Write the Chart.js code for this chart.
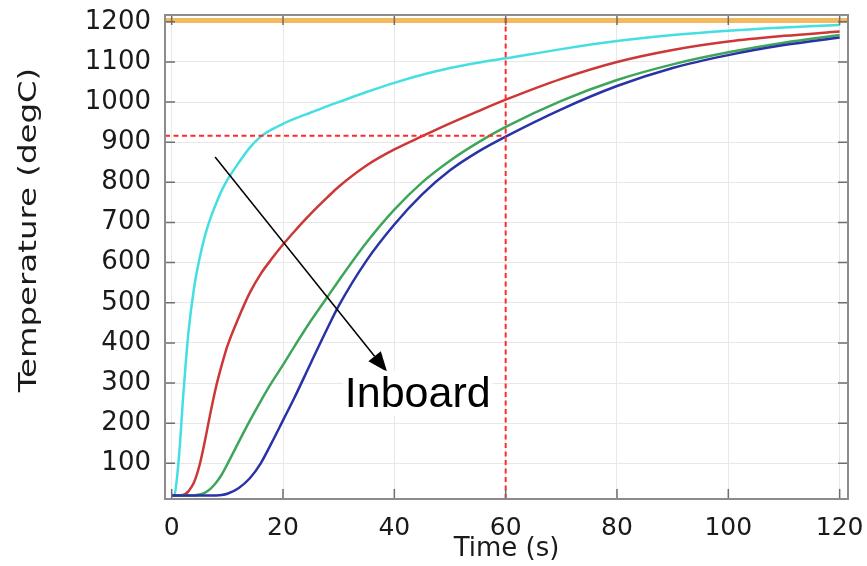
<!DOCTYPE html>
<html lang="en">
<head>
  <meta charset="UTF-8" />
  <title>Temperature vs Time</title>
  <script src="https://cdn.jsdelivr.net/npm/chart.js"></script>
  <style>
    html, body { margin: 0; padding: 0; background: #fff; }
  </style>
</head>
<body>
  <canvas id="tempChart" width="867" height="566"></canvas>

  <script>
    // time samples (s), shared by all four curves
    const timeS = [0, 0.5, 1, 1.5, 2, 2.5, 3, 4, 5, 6, 7, 8, 9, 10, 12, 14, 16, 18, 20, 22,
                   25, 28, 30, 35, 40, 45, 50, 55, 60, 70, 80, 90, 100, 110, 120];

    // temperature (degC) at each sample, outer surface -> inboard
    const cyanT  = [20, 22, 70, 150, 255, 345, 425, 535, 610, 668, 712, 748, 780, 806, 848, 886, 914, 932, 946, 958,
                    974, 990, 1000, 1025, 1048, 1068, 1085, 1098, 1109, 1132, 1152, 1167, 1178, 1186, 1192];
    const redT   = [20, 20, 20, 20, 21, 24, 30, 52, 95, 158, 228, 292, 345, 392, 462, 524, 572, 610, 645, 677,
                    722, 763, 789, 842, 882, 915, 947, 977, 1006, 1058, 1100, 1130, 1151, 1165, 1176];
    const greenT = [20, 20, 20, 20, 20, 20, 20, 20, 22, 27, 37, 52, 72, 98, 152, 205, 255, 302, 345, 390,
                    455, 515, 555, 650, 732, 800, 854, 899, 938, 1003, 1055, 1094, 1124, 1148, 1167];
    const blueT  = [20, 20, 20, 20, 20, 20, 20, 20, 20, 20, 20, 20, 21, 24, 38, 62, 100, 152, 207, 262,
                    350, 437, 492, 605, 695, 770, 830, 876, 914, 982, 1040, 1085, 1117, 1142, 1161];

    const furnaceT = 1203;
    const refTime = 60;
    const refTemp = 916;

    const xRange = [-1.2, 121.5];
    const yRange = [11, 1217];
    const xTicks = [0, 20, 40, 60, 80, 100, 120];
    const yTicks = [100, 200, 300, 400, 500, 600, 700, 800, 900, 1000, 1100, 1200];

    // annotation (data units)
    const arrowFrom = [7.8, 863];
    const arrowTo = [38.7, 328];
    const noteAt = [31.1, 241];
    const noteText = 'Inboard';

    function curve(values) {
      return timeS.map((t, i) => ({ x: t, y: values[i] }));
    }

    function lineSet(values, color, order) {
      return {
        data: curve(values),
        borderColor: color,
        borderWidth: 2.5,
        pointRadius: 0,
        cubicInterpolationMode: 'monotone',
        order: order
      };
    }

    const decorations = {
      id: 'decorations',
      afterDatasetsDraw(chart) {
        const { ctx, chartArea: a, scales: { x, y } } = chart;
        ctx.save();

        // inward tick marks
        ctx.strokeStyle = '#6e6e6e';
        ctx.lineWidth = 1.5;
        ctx.beginPath();
        xTicks.forEach(v => {
          const px = x.getPixelForValue(v);
          ctx.moveTo(px, a.bottom); ctx.lineTo(px, a.bottom - 10);
          ctx.moveTo(px, a.top); ctx.lineTo(px, a.top + 10);
        });
        yTicks.forEach(v => {
          const py = y.getPixelForValue(v);
          ctx.moveTo(a.left, py); ctx.lineTo(a.left + 10, py);
          ctx.moveTo(a.right, py); ctx.lineTo(a.right - 10, py);
        });
        ctx.stroke();

        // frame
        ctx.strokeStyle = '#8c8c8c';
        ctx.lineWidth = 2;
        ctx.strokeRect(a.left, a.top, a.right - a.left, a.bottom - a.top);

        // arrow
        const x0 = x.getPixelForValue(arrowFrom[0]), y0 = y.getPixelForValue(arrowFrom[1]);
        const x1 = x.getPixelForValue(arrowTo[0]), y1 = y.getPixelForValue(arrowTo[1]);
        const ang = Math.atan2(y1 - y0, x1 - x0);
        const headLen = 20, headW = 8;
        const bx = x1 - headLen * Math.cos(ang), by = y1 - headLen * Math.sin(ang);
        ctx.strokeStyle = '#000';
        ctx.lineWidth = 1.5;
        ctx.beginPath();
        ctx.moveTo(x0, y0);
        ctx.lineTo(bx, by);
        ctx.stroke();
        ctx.fillStyle = '#000';
        ctx.beginPath();
        ctx.moveTo(x1, y1);
        ctx.lineTo(bx + headW * Math.sin(ang), by - headW * Math.cos(ang));
        ctx.lineTo(bx - headW * Math.sin(ang), by + headW * Math.cos(ang));
        ctx.closePath();
        ctx.fill();

        // Inboard label on a white box
        ctx.font = '43px "Liberation Sans"';
        const nx = x.getPixelForValue(noteAt[0]), ny = y.getPixelForValue(noteAt[1]);
        const w = ctx.measureText(noteText).width;
        ctx.fillStyle = '#fff';
        ctx.fillRect(nx - 2, ny - 36, w + 4, 45);
        ctx.fillStyle = '#000';
        ctx.textBaseline = 'alphabetic';
        ctx.textAlign = 'left';
        ctx.fillText(noteText, nx, ny);

        // y axis title (stretched along its length like the source)
        ctx.translate(30, 230);
        ctx.rotate(-Math.PI / 2);
        ctx.scale(1.35, 1);
        ctx.font = '24px "DejaVu Sans"';
        ctx.fillStyle = '#1a1a1a';
        ctx.textAlign = 'center';
        ctx.textBaseline = 'middle';
        ctx.fillText('Temperature (degC)', 0, 0);

        ctx.restore();
      }
    };

    const ctx = document.getElementById('tempChart').getContext('2d');
    new Chart(ctx, {
      type: 'line',
      data: {
        datasets: [
          {
            data: [{ x: refTime, y: yRange[0] }, { x: refTime, y: yRange[1] }],
            borderColor: '#ff2a2a', borderWidth: 2, borderDash: [5, 3.5], pointRadius: 0, order: 0
          },
          {
            data: [{ x: xRange[0], y: refTemp }, { x: refTime, y: refTemp }],
            borderColor: '#ff2a2a', borderWidth: 2, borderDash: [5, 3.5], pointRadius: 0, order: 0
          },
          lineSet(blueT, '#2a32a8', 1),
          lineSet(greenT, '#3ea65a', 2),
          lineSet(redT, '#cc3838', 3),
          lineSet(cyanT, '#45dfe2', 4),
          {
            data: [{ x: xRange[0], y: furnaceT }, { x: xRange[1], y: furnaceT }],
            borderColor: '#f2b95e', borderWidth: 5, pointRadius: 0, order: 5
          }
        ]
      },
      options: {
        responsive: false,
        animation: false,
        layout: { padding: { left: 0, right: 19, top: 15, bottom: 0 } },
        plugins: {
          legend: { display: false },
          tooltip: { enabled: false }
        },
        scales: {
          x: {
            type: 'linear',
            min: xRange[0],
            max: xRange[1],
            afterBuildTicks: s => { s.ticks = xTicks.map(v => ({ value: v })); },
            afterFit: s => { s.height = 67; s.paddingLeft = 0; s.paddingRight = 0; },
            ticks: {
              font: { family: 'DejaVu Sans', size: 25 },
              color: '#1a1a1a',
              padding: 14,
              maxRotation: 0,
              autoSkip: false,
              callback: v => String(v)
            },
            grid: { color: '#e8e8e8', drawTicks: false },
            border: { display: false },
            title: {
              display: true,
              text: 'Time (s)',
              color: '#1a1a1a',
              font: { family: 'DejaVu Sans', size: 26 },
              padding: { top: 0, bottom: 1 }
            }
          },
          y: {
            type: 'linear',
            min: yRange[0],
            max: yRange[1],
            afterBuildTicks: s => { s.ticks = yTicks.map(v => ({ value: v })); },
            afterFit: s => { s.width = 165; s.paddingTop = 0; s.paddingBottom = 0; },
            ticks: {
              font: { family: 'DejaVu Sans', size: 26 },
              color: '#1a1a1a',
              padding: 14,
              autoSkip: false,
              callback: v => String(v)
            },
            grid: { color: '#e8e8e8', drawTicks: false },
            border: { display: false }
          }
        }
      },
      plugins: [decorations]
    });
  </script>
</body>
</html>
